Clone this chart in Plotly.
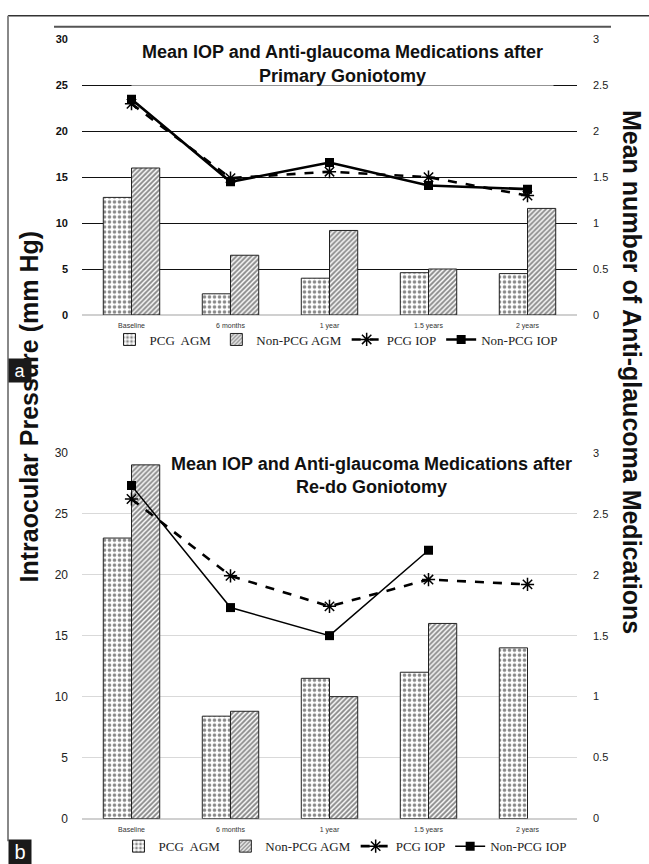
import plotly.graph_objects as go

W, H = 649, 864

categories = ["Baseline", "6 months", "1 year", "1.5 years", "2 years"]

# Chart a: Primary goniotomy
a_pcg_agm = [1.28, 0.23, 0.40, 0.46, 0.45]
a_nonpcg_agm = [1.60, 0.65, 0.92, 0.50, 1.16]
a_pcg_iop = [23.0, 14.9, 15.6, 15.0, 13.0]
a_nonpcg_iop = [23.5, 14.5, 16.6, 14.1, 13.7]

# Chart b: Re-do goniotomy
b_pcg_agm = [2.30, 0.84, 1.15, 1.20, 1.40]
b_nonpcg_agm = [2.90, 0.88, 1.00, 1.60, None]
b_pcg_iop = [26.2, 19.9, 17.4, 19.6, 19.2]
b_nonpcg_iop = [27.3, 17.3, 15.0, 22.0, None]

iop_ticks = [0, 5, 10, 15, 20, 25, 30]
agm_ticks = [0, 0.5, 1, 1.5, 2, 2.5, 3]
agm_ticktext = ["0", "0.5", "1", "1.5", "2", "2.5", "3"]


def px(xp):
    return xp / W


def py(yp):
    return 1 - yp / H


fig = go.Figure()


def add_chart(xa, ya_agm, ya_iop, legend, pcg_agm, non_agm, pcg_iop, non_iop, lw_pcg, lw_non):
    fig.add_trace(go.Bar(
        x=categories, y=pcg_agm, name="PCG  AGM", xaxis=xa, yaxis=ya_agm, legend=legend,
        marker=dict(color="white", line=dict(color="#222", width=1),
                    pattern=dict(shape=".", fgcolor="#111", bgcolor="white", size=5, solidity=0.4)),
    ))
    fig.add_trace(go.Bar(
        x=categories, y=non_agm, name="Non-PCG AGM", xaxis=xa, yaxis=ya_agm, legend=legend,
        marker=dict(color="white", line=dict(color="#222", width=1),
                    pattern=dict(shape="/", fgcolor="#111", bgcolor="white", size=3.5, solidity=0.55)),
    ))
    fig.add_trace(go.Scatter(
        x=categories, y=pcg_iop, name="PCG IOP", xaxis=xa, yaxis=ya_iop, legend=legend,
        mode="lines+markers", line=dict(color="black", width=lw_pcg, dash="dash"),
        marker=dict(symbol="asterisk-open", size=11, color="black", line=dict(color="black", width=1.5)),
    ))
    fig.add_trace(go.Scatter(
        x=categories, y=non_iop, name="Non-PCG IOP", xaxis=xa, yaxis=ya_iop, legend=legend,
        mode="lines+markers", line=dict(color="black", width=lw_non),
        marker=dict(symbol="square", size=9, color="black"),
    ))


add_chart("x", "y", "y2", "legend", a_pcg_agm, a_nonpcg_agm, a_pcg_iop, a_nonpcg_iop, 2.6, 2.6)
add_chart("x2", "y3", "y4", "legend2", b_pcg_agm, b_nonpcg_agm, b_pcg_iop, b_nonpcg_iop, 2.6, 1.5)

xdom = [px(82), px(577)]
dom_a = [py(313), py(33)]
dom_b = [py(825), py(453)]

tickfont_num = dict(family="Liberation Sans", size=11, color="#222")
xtickfont = dict(family="Liberation Sans", size=7, color="#333")

common_x = dict(domain=xdom, type="category", range=[-0.5, 4.5], showgrid=False,
                showline=False, ticks="", tickfont=xtickfont, ticklabelstandoff=5, zeroline=False)

fig.update_layout(
    width=W, height=H, margin=dict(l=0, r=0, t=0, b=0),
    paper_bgcolor="white", plot_bgcolor="rgba(0,0,0,0)",
    barmode="group", bargap=0.43, bargroupgap=0,
    xaxis=dict(common_x, anchor="y"),
    xaxis2=dict(common_x, anchor="y3"),
    yaxis=dict(domain=dom_a, anchor="x", side="right", range=[0, 3], tickvals=agm_ticks, ticktext=agm_ticktext,
               showgrid=True, gridcolor="#111", gridwidth=1.3, zeroline=True, zerolinecolor="#d0d0d0",
               zerolinewidth=1.5, tickfont=tickfont_num, ticks="", ticklabelstandoff=15),
    yaxis2=dict(overlaying="y", anchor="x", side="left", range=[0, 30], tickvals=iop_ticks,
                showgrid=False, zeroline=False, tickfont=dict(family="Liberation Sans", size=11, color="#111", weight="bold"),
                ticks="", ticklabelstandoff=13),
    yaxis3=dict(domain=dom_b, anchor="x2", side="right", range=[0, 3], tickvals=agm_ticks, ticktext=agm_ticktext,
                showgrid=True, gridcolor="#d9d9d9", gridwidth=1, zeroline=True, zerolinecolor="#d0d0d0",
                zerolinewidth=1.5, tickfont=tickfont_num, ticks="", ticklabelstandoff=15),
    yaxis4=dict(overlaying="y3", anchor="x2", side="left", range=[0, 30], tickvals=iop_ticks,
                showgrid=False, zeroline=False, tickfont=dict(family="Liberation Sans", size=12, color="#222"),
                ticks="", ticklabelstandoff=13),
    legend=dict(orientation="h", x=px(336), xanchor="center", y=py(338), yanchor="middle",
                font=dict(family="Liberation Serif", size=13, color="#222"), bgcolor="rgba(0,0,0,0)",
                itemwidth=30, tracegroupgap=0),
    legend2=dict(orientation="h", x=px(345), xanchor="center", y=py(853), yanchor="middle",
                 font=dict(family="Liberation Serif", size=13, color="#222"), bgcolor="rgba(0,0,0,0)",
                 itemwidth=30, tracegroupgap=0),
    showlegend=True,
)

shapes = [
    # outer frame
    dict(type="line", xref="paper", yref="paper", x0=px(8), x1=px(649), y0=py(9), y1=py(9),
         line=dict(color="#333", width=1.5)),
    dict(type="line", xref="paper", yref="paper", x0=px(8), x1=px(8), y0=py(9), y1=py(848),
         line=dict(color="#888", width=2)),
    # chart area top border of panel a
    dict(type="line", xref="paper", yref="paper", x0=px(54), x1=px(611), y0=py(20), y1=py(20),
         line=dict(color="#555", width=2)),
]
fig.update_layout(shapes=shapes)

annotations = [
    dict(text="Mean IOP and Anti-glaucoma Medications after<br>Primary Goniotomy",
         xref="paper", yref="paper", x=px(342), y=py(58), xanchor="center", yanchor="middle",
         showarrow=False, width=419, height=46, bgcolor="rgba(255,255,255,0.55)",
         font=dict(family="Liberation Sans", size=18, color="#111", weight="bold")),
    dict(text="Mean IOP and Anti-glaucoma Medications after<br>Re-do Goniotomy",
         xref="paper", yref="paper", x=px(372), y=py(476), xanchor="center", yanchor="middle",
         showarrow=False, font=dict(family="Liberation Sans", size=18, color="#111", weight="bold")),
    dict(text="Intraocular Pressure (mm Hg)", xref="paper", yref="paper", x=px(29), y=py(406),
         xanchor="center", yanchor="middle", textangle=-90, showarrow=False,
         font=dict(family="Liberation Sans", size=25, color="#111", weight="bold")),
    dict(text="Mean number of Anti-glaucoma Medications", xref="paper", yref="paper", x=px(632), y=py(371),
         xanchor="center", yanchor="middle", textangle=90, showarrow=False,
         font=dict(family="Liberation Sans", size=25, color="#111", weight="bold")),
    dict(text="a", xref="paper", yref="paper", x=px(8), y=py(357), xanchor="left", yanchor="top",
         showarrow=False, width=20, height=21, bgcolor="#1a1a1a", borderpad=1,
         font=dict(family="Liberation Sans", size=18, color="white")),
    dict(text="b", xref="paper", yref="paper", x=px(8), y=py(846), xanchor="left", yanchor="top",
         showarrow=False, width=20, height=22, bgcolor="#1a1a1a", borderpad=1,
         font=dict(family="Liberation Sans", size=20, color="white")),
]
fig.update_layout(annotations=annotations)

fig.write_html(
    "out.html",
    config={"displayModeBar": False},
    post_script="document.body.style.margin='0';document.body.style.overflow='hidden';",
)
